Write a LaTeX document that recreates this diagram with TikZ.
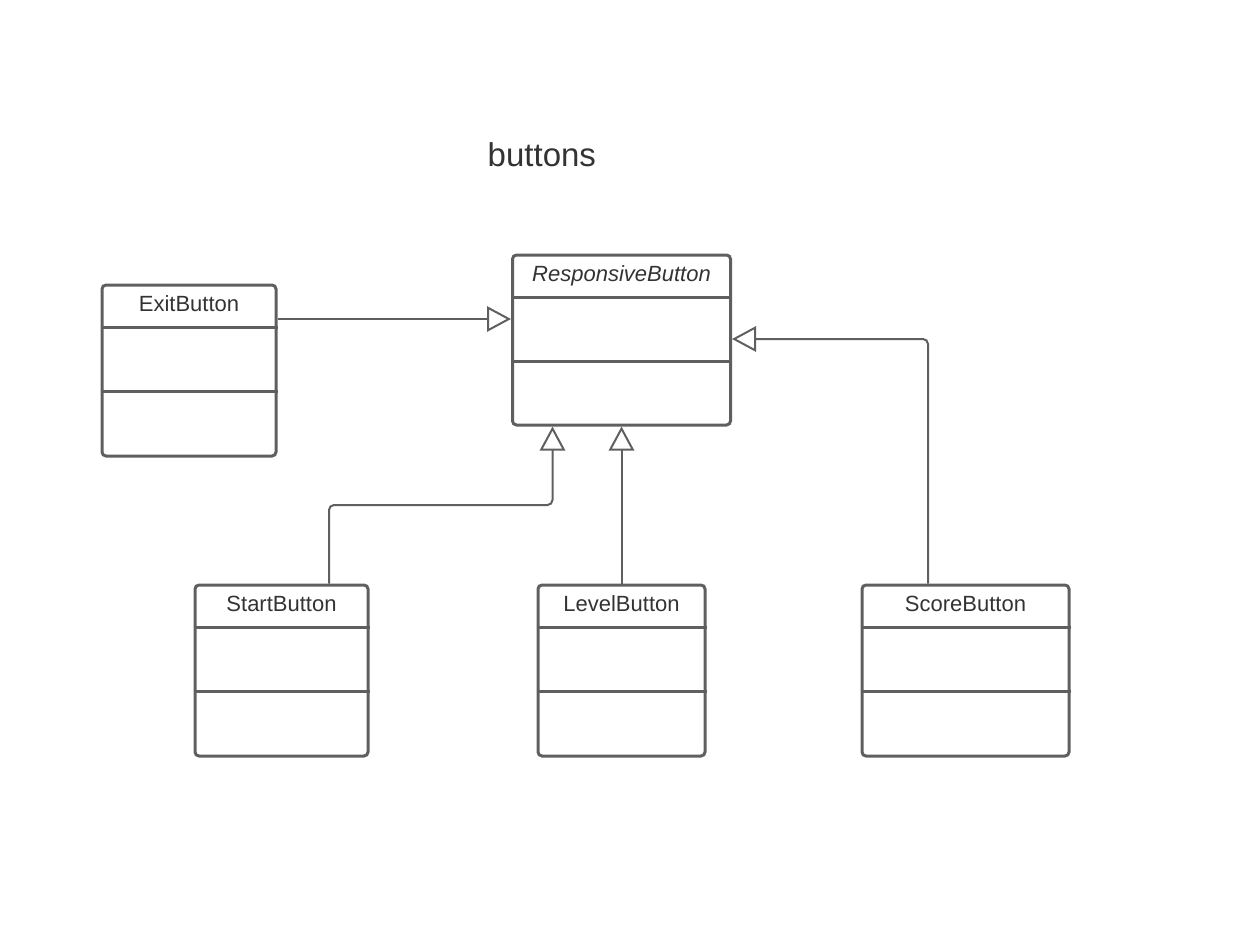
\documentclass[tikz,border=0pt]{standalone}
\usepackage{fontspec}
\setmainfont{Liberation Sans}
\usetikzlibrary{arrows.meta}

\definecolor{linegray}{HTML}{5F5F5F}
\definecolor{textgray}{HTML}{333333}
\newlength\pxu
\pxu=0.75pt

\begin{document}
\begin{tikzpicture}[x=0.75pt, y=-0.75pt,
        classbox/.style={draw = linegray, line width = 2.25pt, rounded corners = 4\pxu, minimum height = 171\pxu, inner sep = 0pt},
        classname/.style={anchor = base, text = textgray, font = \fontsize{16.5}{19}\selectfont},
        divider/.style={draw = linegray, line width = 2.25pt},
        inherit/.style={draw = linegray, line width = 1.5pt, -{Triangle[open, length = 18pt, width = 19pt]}}]

        \useasboundingbox (0, 0) rectangle (1239, 925);

        \node (title) at (483, 166) [anchor = base west, text = textgray, font = \fontsize{24.75}{28}\selectfont] {buttons};

        % class boxes
        \node (rb) at (621.5, 340) [classbox, minimum width = 218\pxu, minimum height = 170\pxu] {};
        \node (exit) at (189, 370.5) [classbox, minimum width = 174\pxu] {};
        \node (start) at (281.5, 670.5) [classbox, minimum width = 173\pxu] {};
        \node (level) at (621.5, 670.5) [classbox, minimum width = 167\pxu] {};
        \node (score) at (965.5, 670.5) [classbox, minimum width = 207\pxu] {};

        % names and compartments
        \foreach \cls/\name in {rb/\textit{ResponsiveButton}, exit/ExitButton, start/StartButton, level/LevelButton, score/ScoreButton} {
            \node (\cls-name) at ([yshift = -28\pxu]\cls.north) [classname] {\name};
            \draw [divider] ([yshift = -43.5\pxu]\cls.north west) -- ([yshift = -43.5\pxu]\cls.north east);
            \draw [divider] ([yshift = -107.5\pxu]\cls.north west) -- ([yshift = -107.5\pxu]\cls.north east);
        }

        \coordinate (exit-out) at ([yshift = -35.5\pxu]exit.north east);
        \coordinate (start-out) at ([xshift = 135.5\pxu]start.north west);
        \coordinate (score-out) at ([xshift = 67.5\pxu]score.north west);
        \coordinate (rb-in) at ([xshift = 41.5\pxu]rb.south west);
        \coordinate (rb-side) at ([yshift = 1\pxu]rb.east);

        % generalisations
        \draw [inherit] (exit-out) -- (exit-out -| rb.west);
        \draw [inherit, rounded corners = 5\pxu] (start-out) -- (start-out |- 0, 505) -- (rb-in |- 0, 505) -- (rb-in);
        \draw [inherit] (level.north) -- (rb.south);
        \draw [inherit, rounded corners = 5\pxu] (score-out) |- (rb-side);

    \end{tikzpicture}
\end{document}
